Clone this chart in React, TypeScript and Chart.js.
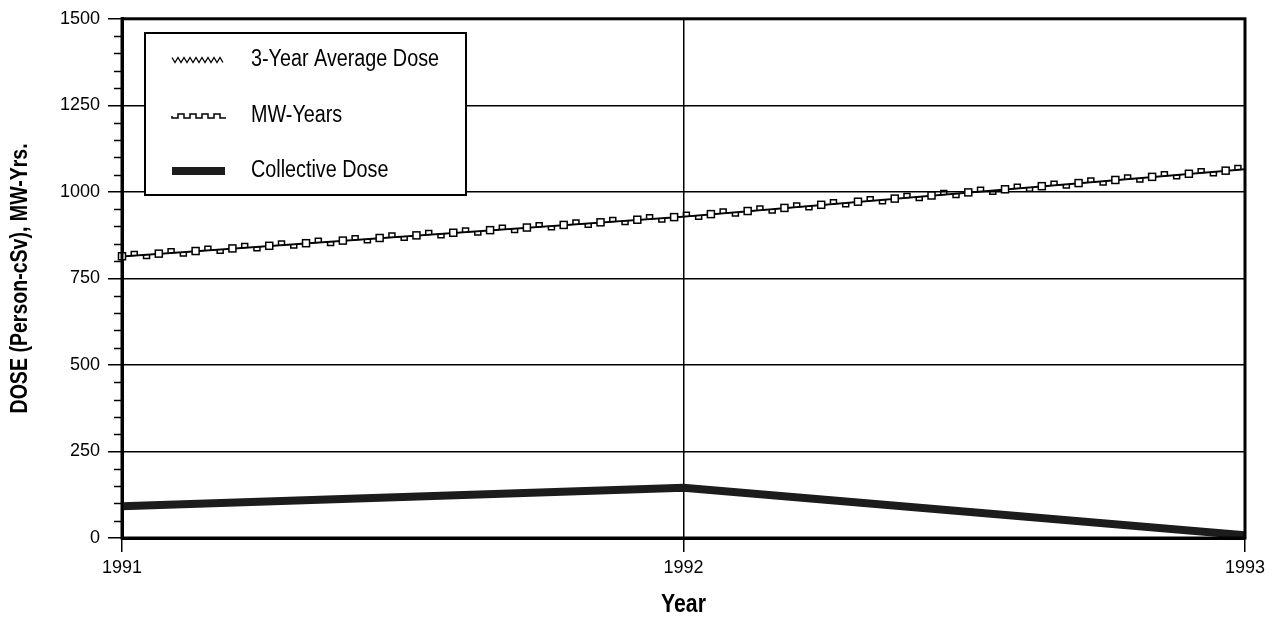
import React, { useEffect, useRef } from "react";
import { Chart, registerables } from "chart.js";

Chart.register(...registerables);

const years = [1991, 1992, 1993];
const collectiveDose = [92, 145, 8];
const mwYears = [814, 929, 1066];
const threeYearAvg = [812, 927, 1064];
const yTickValues = [0, 250, 500, 750, 1000, 1250, 1500];
const xTickValues = [1991, 1992, 1993];
const legendLabels = ["3-Year Average Dose", "MW-Years", "Collective Dose"];
const yTitle = "DOSE (Person-cSv), MW-Yrs.";
const xTitle = "Year";

const FONT = '"Liberation Sans", Arial, Helvetica, sans-serif';

type Pt = { x: number; y: number };

function walk(points: Pt[], spacing: number, cb: (x: number, y: number, i: number) => void) {
  let carry = 0;
  let idx = 0;
  for (let s = 0; s < points.length - 1; s++) {
    const a = points[s];
    const b = points[s + 1];
    const len = Math.hypot(b.x - a.x, b.y - a.y);
    let d = carry;
    while (d <= len) {
      const t = d / len;
      cb(a.x + (b.x - a.x) * t, a.y + (b.y - a.y) * t, idx++);
      d += spacing;
    }
    carry = d - len;
  }
}

function drawSquare(ctx: CanvasRenderingContext2D, x: number, y: number) {
  ctx.fillStyle = "#fff";
  ctx.fillRect(x - 3.5, y - 3.5, 7, 7);
  ctx.strokeRect(x - 3.5, y - 3.5, 7, 7);
}

function drawStep(ctx: CanvasRenderingContext2D, x: number, y: number, up: boolean) {
  const h = up ? -4 : 4;
  ctx.beginPath();
  ctx.moveTo(x - 3, y);
  ctx.lineTo(x - 3, y + h);
  ctx.lineTo(x + 3, y + h);
  ctx.lineTo(x + 3, y);
  ctx.stroke();
}

function condensedText(
  ctx: CanvasRenderingContext2D,
  text: string,
  x: number,
  y: number,
  sx: number,
  rotate = 0
) {
  ctx.save();
  ctx.translate(x, y);
  if (rotate) ctx.rotate(rotate);
  ctx.scale(sx, 1);
  ctx.fillText(text, 0, 0);
  ctx.restore();
}

const decorPlugin = {
  id: "decor",
  beforeDatasetsDraw(chart: any) {
    const { ctx, chartArea } = chart;
    const yScale = chart.scales.y;
    ctx.save();
    ctx.strokeStyle = "#000";
    ctx.lineWidth = 1.5;
    for (let v = 0; v <= 1500; v += 50) {
      if (v % 250 === 0) continue;
      const y = Math.round(yScale.getPixelForValue(v)) + 0.5;
      ctx.beginPath();
      ctx.moveTo(chartArea.left - 8, y);
      ctx.lineTo(chartArea.left, y);
      ctx.stroke();
    }
    ctx.restore();
  },
  afterDatasetsDraw(chart: any) {
    const { ctx, chartArea } = chart;
    ctx.save();
    // MW-Years pattern marks along the line
    const mwMeta = chart.getDatasetMeta(1);
    const mwPts: Pt[] = mwMeta.data.map((p: any) => ({ x: p.x, y: p.y }));
    ctx.strokeStyle = "#000";
    ctx.lineWidth = 1.5;
    walk(mwPts, 12.3, (x, y, i) => {
      if (i % 3 === 0) drawSquare(ctx, x, y);
      else drawStep(ctx, x, y, i % 3 === 1);
    });

    // frame
    ctx.lineWidth = 3;
    ctx.strokeStyle = "#000";
    ctx.strokeRect(chartArea.left, chartArea.top, chartArea.right - chartArea.left, chartArea.bottom - chartArea.top);

    // legend
    const bx = 145, by = 33, bw = 321, bh = 162;
    ctx.fillStyle = "#fff";
    ctx.fillRect(bx, by, bw, bh);
    ctx.lineWidth = 2;
    ctx.strokeRect(bx, by, bw, bh);
    const rows = [60, 116, 171];
    const sx0 = 172, sx1 = 225;
    // 3-year sample: zigzag
    ctx.lineWidth = 1.3;
    ctx.beginPath();
    for (let x = sx0, k = 0; x <= sx1; x += 3, k++) {
      const yy = rows[0] + (k % 2 === 0 ? -2.5 : 2.5);
      if (k === 0) ctx.moveTo(x, yy);
      else ctx.lineTo(x, yy);
    }
    ctx.stroke();
    // MW sample: steps
    ctx.lineWidth = 1.5;
    ctx.beginPath();
    ctx.moveTo(sx0, rows[1]);
    for (let x = sx0, k = 0; x < sx1; x += 6, k++) {
      const yy = rows[1] + (k % 2 === 0 ? 2 : -2);
      ctx.lineTo(x, yy);
      ctx.lineTo(x + 6, yy);
    }
    ctx.stroke();
    // Collective sample: thick bar
    ctx.fillStyle = "#1c1c1c";
    ctx.fillRect(sx0, rows[2] - 4, sx1 - sx0, 8);

    ctx.fillStyle = "#000";
    ctx.font = `23px ${FONT}`;
    ctx.textAlign = "left";
    ctx.textBaseline = "middle";
    legendLabels.forEach((t, i) => condensedText(ctx, t, 251, rows[i], 0.86));

    // axis titles
    ctx.font = `bold 25px ${FONT}`;
    ctx.textAlign = "center";
    ctx.textBaseline = "middle";
    condensedText(ctx, xTitle, (chartArea.left + chartArea.right) / 2, 605, 0.85);
    ctx.font = `bold 23px ${FONT}`;
    condensedText(ctx, yTitle, 21, (chartArea.top + chartArea.bottom) / 2, 0.85, -Math.PI / 2);
    ctx.restore();
  },
};

export default function App() {
  const ref = useRef<HTMLCanvasElement | null>(null);
  useEffect(() => {
    document.body.style.margin = "0";
    const canvas = ref.current;
    if (!canvas) return;
    const toXY = (arr: number[]) => years.map((yr, i) => ({ x: yr, y: arr[i] }));
    const chart = new Chart(canvas, {
      type: "line",
      data: {
        datasets: [
          {
            label: legendLabels[0],
            data: toXY(threeYearAvg),
            borderColor: "#000",
            borderWidth: 1,
            pointRadius: 0,
            tension: 0,
          },
          {
            label: legendLabels[1],
            data: toXY(mwYears),
            borderColor: "#000",
            borderWidth: 1.5,
            pointRadius: 0,
            tension: 0,
          },
          {
            label: legendLabels[2],
            data: toXY(collectiveDose),
            borderColor: "#1c1c1c",
            borderWidth: 8,
            pointRadius: 0,
            tension: 0,
            borderCapStyle: "butt",
          },
        ],
      },
      options: {
        responsive: false,
        animation: false,
        layout: { padding: { top: 13, right: 38, left: 0, bottom: 0 } },
        plugins: { legend: { display: false }, tooltip: { enabled: false } },
        scales: {
          x: {
            type: "linear",
            min: 1991,
            max: 1993,
            afterBuildTicks: (s: any) => {
              s.ticks = xTickValues.map((v) => ({ value: v }));
            },
            afterFit: (s: any) => {
              s.height = 88;
            },
            ticks: {
              color: "#000",
              font: { family: FONT, size: 18 },
              padding: 5,
              maxRotation: 0,
              callback: (v: any) => String(v),
            },
            grid: { color: "#000", lineWidth: 1.5, tickLength: 14, tickColor: "#000", tickWidth: 1.5 },
            border: { color: "#000", width: 3 },
          },
          y: {
            type: "linear",
            min: 0,
            max: 1500,
            afterBuildTicks: (s: any) => {
              s.ticks = yTickValues.map((v) => ({ value: v }));
            },
            afterFit: (s: any) => {
              s.width = 122;
            },
            ticks: {
              color: "#000",
              font: { family: FONT, size: 18 },
              padding: 8,
              callback: (v: any) => String(v),
            },
            grid: { color: "#000", lineWidth: 1.5, tickLength: 14, tickColor: "#000", tickWidth: 1.5 },
            border: { color: "#000", width: 3 },
          },
        },
      },
      plugins: [decorPlugin],
    } as any);
    return () => chart.destroy();
  }, []);
  return (
    <div style={{ position: "absolute", left: 0, top: 0, width: 1283, height: 626, background: "#fff" }}>
      <canvas ref={ref} width={1283} height={626} />
    </div>
  );
}
